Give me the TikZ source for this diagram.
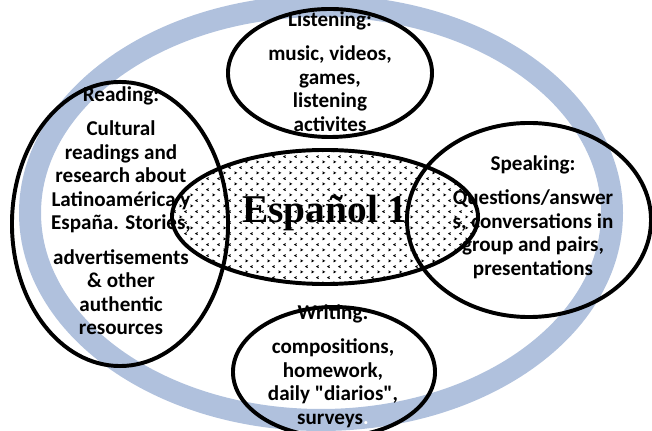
\documentclass[tikz,border=0pt]{standalone}
\usepackage{fontspec}
\setmainfont{Carlito}
\newfontfamily\titlefont{Liberation Serif}
\usetikzlibrary{shapes.geometric,patterns.meta}
\definecolor{ringcol}{RGB}{176,193,221}

% small chevron marks for the centre ellipse
\tikzdeclarepattern{
  name=chevrons,
  type=uncolored,
  bounding box={(0,0) and (8pt,8pt)},
  tile size={(8pt,8pt)},
  code={
    \pgfsetlinewidth{0.7pt}
    \pgfpathmoveto{\pgfqpoint{0.4pt}{2.4pt}}
    \pgfpathlineto{\pgfqpoint{1.8pt}{1.6pt}}
    \pgfpathlineto{\pgfqpoint{0.4pt}{0.8pt}}
    \pgfpathmoveto{\pgfqpoint{5.8pt}{6.4pt}}
    \pgfpathlineto{\pgfqpoint{4.4pt}{5.6pt}}
    \pgfpathlineto{\pgfqpoint{5.8pt}{4.8pt}}
    \pgfusepath{stroke}
  }
}

\tikzset{
  area/.style={ellipse,draw,line width=2.8pt,inner sep=0pt},
  areatext/.style={anchor=north,inner sep=0pt,align=center,
    font=\fontsize{15}{16.7}\selectfont\bfseries},
}

\begin{document}
\begin{tikzpicture}[x=0.025cm,y=-0.025cm]
\useasboundingbox (0,0) rectangle (652,431);

% Cycle ring behind everything
\draw[ringcol,line width=0.55cm] (321,213) ellipse [x radius=291, y radius=207];

% Centre
\node[area,minimum width=7.65cm,minimum height=3.35cm,pattern=chevrons] (espanol) at (325,217) {};

% Skill ellipses
\node[area,minimum width=5.1cm,minimum height=3.2cm] (listening) at (330,73) {};
\node[area,minimum width=5.4cm,minimum height=7.1cm] (reading) at (120,224) {};
\node[area,minimum width=6.1cm,minimum height=4.85cm] (speaking) at (529,220) {};
\node[area,minimum width=5.05cm,minimum height=3.25cm] (writing) at (334,372) {};

% Texts
\node[font=\titlefont\bfseries\fontsize{28}{30}\selectfont] (title) at (325,213) {Español 1};
\node[areatext] (listentxt) at (330,11) {Listening:\\[8pt] music, videos,\\ games,\\ listening\\ activites};
\node[areatext] (readtxt) at (121,86) {Reading:\\[8pt] Cultural\\ readings and\\ research about\\ Latinoamérica y\\ España. Stories,\\[8pt] advertisements\\ \& other\\ authentic\\ resources};
\node[areatext] (speaktxt) at (533,155) {Speaking:\\[8pt] Questions/answer\\ s, conversations in\\ group and pairs,\\ presentations};
\node[areatext] (writetxt) at (333,304) {Writing:\\[8pt] compositions,\\ homework,\\ daily \textquotedbl diarios\textquotedbl,\\ surveys{\color{white}.}};

\end{tikzpicture}
\end{document}
